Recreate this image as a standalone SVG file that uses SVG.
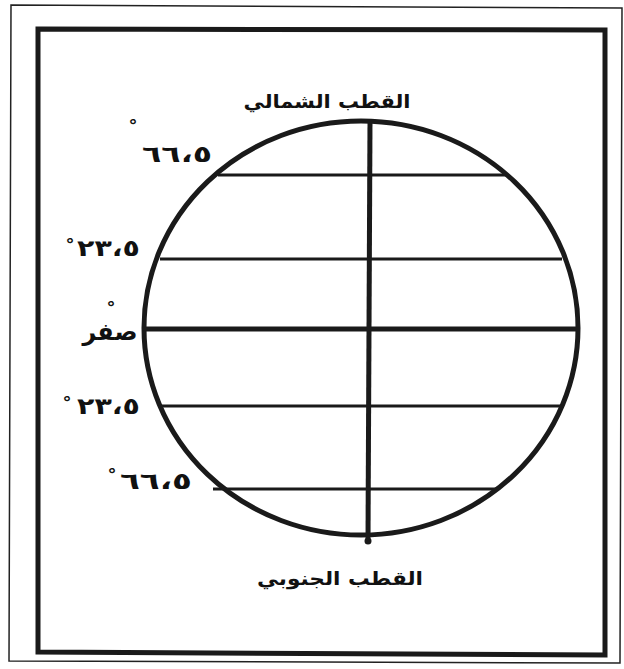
<svg xmlns="http://www.w3.org/2000/svg" width="624" height="669" viewBox="0 0 624 669">
<style>
.lbl{font-family:"DejaVu Sans","Noto Sans",sans-serif;font-weight:bold;fill:#111;}
.num{font-size:23px;}
.deg{font-family:"DejaVu Sans",sans-serif;font-size:18px;font-weight:bold;fill:#111;}
.thin{stroke:#1a1a1a;stroke-width:3;fill:none;}
.thick{stroke:#1a1a1a;stroke-width:5;fill:none;}
</style>
<rect width="624" height="669" fill="#fff"/>
<g id="frame">
<path d="M11,5 L622,8 L620,663 L9,661 Z" fill="none" stroke="#222" stroke-width="1.5"/>
<path d="M38,29 L605,30 L605,655 L38,652 Z" fill="none" stroke="#1a1a1a" stroke-width="5"/>
</g>
<g id="globe">
<ellipse cx="361" cy="328" rx="217" ry="207" class="thick"/>
</g>
<g id="connectors">
<line x1="218" y1="175" x2="507" y2="175" class="thin"/>
<line x1="160" y1="259" x2="562" y2="259" class="thin"/>
<line x1="145" y1="329" x2="577" y2="329" class="thick"/>
<line x1="162" y1="406" x2="564" y2="406" class="thin"/>
<line x1="213" y1="489" x2="497" y2="489" class="thin"/>
<line x1="370" y1="121" x2="368" y2="540" class="thick"/>
<circle cx="368" cy="541" r="3.5" fill="#1a1a1a"/>
</g>
<g id="north-pole">
<text class="lbl" x="327" y="108" font-size="19" text-anchor="middle" direction="rtl" textLength="167" lengthAdjust="spacingAndGlyphs">القطب الشمالي</text>
</g>
<g id="south-pole">
<text class="lbl" x="340" y="585" font-size="19" text-anchor="middle" direction="rtl" textLength="166" lengthAdjust="spacingAndGlyphs">القطب الجنوبي</text>
</g>
<g id="lat-66-n">
<text class="deg" x="133" y="132" text-anchor="middle">°</text>
<text class="lbl num" x="142" y="162" textLength="70" lengthAdjust="spacingAndGlyphs">٦٦،٥</text>
</g>
<g id="lat-23-n">
<text class="deg" x="70" y="251" text-anchor="middle">°</text>
<text class="lbl num" x="77" y="256" textLength="63" lengthAdjust="spacingAndGlyphs">٢٣،٥</text>
</g>
<g id="equator">
<text class="deg" x="111" y="314" text-anchor="middle">°</text>
<text class="lbl" x="110" y="340" font-size="24" text-anchor="middle" direction="rtl" textLength="55" lengthAdjust="spacingAndGlyphs">صفر</text>
</g>
<g id="lat-23-s">
<text class="deg" x="67" y="409" text-anchor="middle">°</text>
<text class="lbl num" x="77" y="414" textLength="63" lengthAdjust="spacingAndGlyphs">٢٣،٥</text>
</g>
<g id="lat-66-s">
<text class="deg" x="112" y="481" text-anchor="middle">°</text>
<text class="lbl num" x="120" y="489" textLength="72" lengthAdjust="spacingAndGlyphs">٦٦،٥</text>
</g>
</svg>
